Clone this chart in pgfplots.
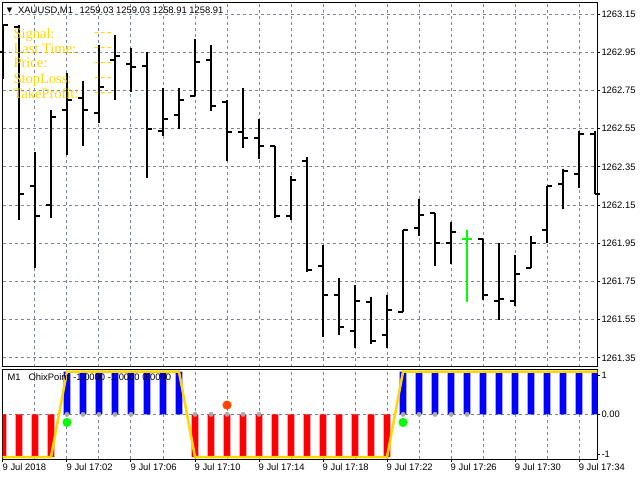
\documentclass[border=0pt]{standalone}
\usepackage{fontspec}
\setmainfont{Liberation Sans}
\newfontfamily\serifx{Liberation Serif}
\newfontfamily\dejavu{DejaVu Sans}
\usepackage{pgfplots}
\pgfplotsset{compat=1.18}
\usepackage{pgfplotstable}

\definecolor{gridc}{HTML}{778899}
\definecolor{goldc}{HTML}{FFD700}
\definecolor{dotgray}{HTML}{A9A9A9}
\definecolor{orred}{HTML}{FF4500}
\definecolor{limec}{HTML}{00FF00}

\pgfdeclareplotmark{otick}{\pgfpathmoveto{\pgfqpoint{-5pt}{0pt}}\pgfpathlineto{\pgfqpoint{0pt}{0pt}}\pgfusepathqstroke}
\pgfdeclareplotmark{ctick}{\pgfpathmoveto{\pgfqpoint{0pt}{0pt}}\pgfpathlineto{\pgfqpoint{5pt}{0pt}}\pgfusepathqstroke}

\pgfplotstableread{
i o h l c
0 1262.95 1263.09 1262.81 1263.09
1 1263.08 1263.09 1262.07 1262.21
2 1262.25 1262.43 1261.82 1262.09
3 1262.15 1262.65 1262.08 1262.61
4 1262.65 1262.84 1262.41 1262.70
5 1262.71 1262.80 1262.46 1262.65
6 1262.63 1262.99 1262.58 1262.77
7 1262.91 1263.04 1262.70 1262.93
8 1262.89 1262.97 1262.74 1262.87
9 1262.88 1262.95 1262.29 1262.55
10 1262.54 1262.76 1262.51 1262.60
11 1262.62 1262.76 1262.55 1262.70
12 1262.72 1263.02 1262.72 1262.90
13 1262.91 1262.99 1262.64 1262.67
14 1262.69 1262.70 1262.38 1262.53
15 1262.53 1262.76 1262.45 1262.50
16 1262.50 1262.60 1262.39 1262.46
17 1262.46 1262.46 1262.08 1262.09
18 1262.09 1262.30 1262.07 1262.28
19 1262.38 1262.40 1261.80 1261.81
20 1261.83 1261.94 1261.46 1261.68
21 1261.68 1261.77 1261.47 1261.51
22 1261.49 1261.73 1261.40 1261.65
23 1261.64 1261.67 1261.42 1261.44
24 1261.47 1261.68 1261.40 1261.60
25 1261.59 1262.02 1261.59 1262.02
26 1262.03 1262.18 1261.99 1262.10
27 1262.11 1262.11 1261.83 1261.95
28 1261.95 1262.06 1261.84 1262.01
30 1261.97 1261.97 1261.65 1261.68
31 1261.65 1261.95 1261.55 1261.66
32 1261.65 1261.89 1261.62 1261.79
33 1261.82 1261.99 1261.82 1261.95
34 1262.02 1262.25 1261.95 1262.25
35 1262.26 1262.34 1262.13 1262.33
36 1262.31 1262.54 1262.24 1262.52
37 1262.52 1262.54 1262.21 1262.21
}\ohlc

\pgfplotstableread{
i o h l c
29 1261.97 1262.02 1261.64 1261.97
}\ohlcg

\begin{document}
\begin{tikzpicture}
\useasboundingbox (0,0) rectangle (640pt,480pt);
\pgfplotsset{
  every tick label/.append style={font=\fontsize{9.4}{11}\selectfont, text=black},
  mygrid/.style={
    major grid style={gridc, dash pattern=on 3pt off 3pt, line width=1pt},
    minor grid style={gridc, dash pattern=on 3pt off 3pt, line width=1pt},
  },
}
% ---------------- main price pane
\begin{axis}[
  at={(2.5pt,113.3pt)}, anchor=south west,
  scale only axis, width=594.8pt, height=364pt,
  xmin=-0.03, xmax=37.14,
  ymin=1261.3034, ymax=1263.2092,
  axis line style={line width=1pt, black},
  mygrid,
  xtick={0,2,...,36}, xticklabels={}, xtick style={draw=none},
  xmajorgrids,
  ytick={1261.35,1261.55,1261.75,1261.95,1262.15,1262.35,1262.55,1262.75,1262.95,1263.15},
  yticklabels={1261.35,1261.55,1261.75,1261.95,1262.15,1262.35,1262.55,1262.75,1262.95,1263.15},
  ymajorgrids,
  ytick pos=right, yticklabel pos=right,
  tick align=outside, major tick length=3pt,
  ytick style={black, line width=1pt},
  yticklabel style={anchor=west, inner sep=1pt},
]
\addplot[draw=none, mark=none, error bars/.cd, y dir=minus, y explicit, error mark=none,
  error bar style={draw=black, solid, line width=2pt}]
  table[x=i, y=h, y error expr=\thisrow{h}-\thisrow{l}] {\ohlc};
\addplot[only marks, mark=otick, black, line width=2pt] table[x=i, y=o] {\ohlc};
\addplot[only marks, mark=ctick, black, line width=2pt] table[x=i, y=c] {\ohlc};
\addplot[draw=none, mark=none, error bars/.cd, y dir=minus, y explicit, error mark=none,
  error bar style={draw=limec, solid, line width=2pt}]
  table[x=i, y=h, y error expr=\thisrow{h}-\thisrow{l}] {\ohlcg};
\addplot[only marks, mark=otick, limec, line width=2pt] table[x=i, y=o] {\ohlcg};
\addplot[only marks, mark=ctick, limec, line width=2pt] table[x=i, y=c] {\ohlcg};
\end{axis}

% ---------------- indicator pane
\begin{axis}[
  at={(2.5pt,21pt)}, anchor=south west,
  scale only axis, width=594.8pt, height=89.3pt,
  xmin=-0.03, xmax=37.14,
  ymin=-1.045, ymax=1.045,
  axis line style={line width=1pt, black},
  mygrid,
  xtick={0,4,...,36},
  xticklabels={9 Jul 2018,9 Jul 17:02,9 Jul 17:06,9 Jul 17:10,9 Jul 17:14,9 Jul 17:18,9 Jul 17:22,9 Jul 17:26,9 Jul 17:30,9 Jul 17:34},
  minor xtick={2,6,...,34},
  xmajorgrids, xminorgrids,
  xtick pos=bottom,
  xticklabel style={anchor=north west, inner sep=1pt, xshift=-1.5pt},
  ytick={0}, yticklabels={0.00},
  ymajorgrids,
  extra y ticks={-0.933,0.905}, extra y tick labels={-1,1},
  extra y tick style={grid=none},
  ytick pos=right, yticklabel pos=right,
  tick align=outside, major tick length=3pt, minor tick length=0pt,
  tick style={black, line width=1pt},
  yticklabel style={anchor=west, inner sep=1pt},
]
\addplot[ybar, bar width=6.7pt, bar shift=0pt, fill=red, draw=none]
  coordinates {(0,-1)(1,-1)(2,-1)(3,-1)(12,-1)(13,-1)(14,-1)(15,-1)(16,-1)(17,-1)(18,-1)(19,-1)(20,-1)(21,-1)(22,-1)(23,-1)(24,-1)};
\addplot[ybar, bar width=6.7pt, bar shift=0pt, fill=blue, draw=none]
  coordinates {(4,1)(5,1)(6,1)(7,1)(8,1)(9,1)(10,1)(11,1)(25,1)(26,1)(27,1)(28,1)(29,1)(30,1)(31,1)(32,1)(33,1)(34,1)(35,1)(36,1)(37,1)};
\addplot[goldc, line width=2.5pt]
  coordinates {(-1,-1)(3,-1)(4,1)(11,1)(12,-1)(24,-1)(25,1)(38,1)};
\addplot[only marks, mark=*, mark size=2.2pt, mark options={draw=dotgray, fill=dotgray}]
  coordinates {(4,0)(5,0)(6,0)(7,0)(8,0)(12,0)(13,0)(14,0)(15,0)(16,0)(25,0)(26,0)(27,0)(28,0)(29,0)};
\addplot[only marks, mark=*, mark size=4.3pt, mark options={draw=limec, fill=limec}]
  coordinates {(4,-0.189)(25,-0.189)};
\addplot[only marks, mark=*, mark size=4.3pt, mark options={draw=orred, fill=orred}]
  coordinates {(14,0.217)};
\end{axis}

% ---------------- texts
\node[anchor=center, inner sep=0pt, font=\dejavu\fontsize{7}{8}\selectfont] at (9.5pt,469pt) {▼};
\node[anchor=west, inner sep=0pt, font=\fontsize{9.4}{11}\selectfont] at (18pt,469.3pt)
  {XAUUSD,M1\hspace{4pt} 1259.03 1259.03 1258.91 1258.91};
\node[anchor=west, inner sep=0pt, font=\fontsize{9.4}{11}\selectfont] at (7.3pt,102.7pt)
  {M1\hspace{8pt}OhixPoint\hspace{4pt}-1.0000 -1.0000 0.0000};
\begin{scope}[every node/.style={anchor=base west, inner sep=0pt, text=goldc, font=\serifx\fontsize{14.5}{15}\selectfont}]
\node at (13.3pt,441.7pt) {Signal:};
\node at (13.3pt,426.7pt) {Last Time:};
\node at (13.3pt,412.3pt) {Price:};
\node at (13.3pt,396.7pt) {StopLoss:};
\node at (13.3pt,381.7pt) {TakeProfit:};
\node at (94pt,443pt) {-\hspace{1.5pt}-\hspace{1.5pt}-};
\node at (94pt,428pt) {-\hspace{1.5pt}-\hspace{1.5pt}-};
\node at (94pt,413.6pt) {-\hspace{1.5pt}-\hspace{1.5pt}-};
\node at (94pt,398pt) {-\hspace{1.5pt}-\hspace{1.5pt}-};
\node at (94pt,383pt) {-\hspace{1.5pt}-\hspace{1.5pt}-};
\end{scope}
\end{tikzpicture}
\end{document}
